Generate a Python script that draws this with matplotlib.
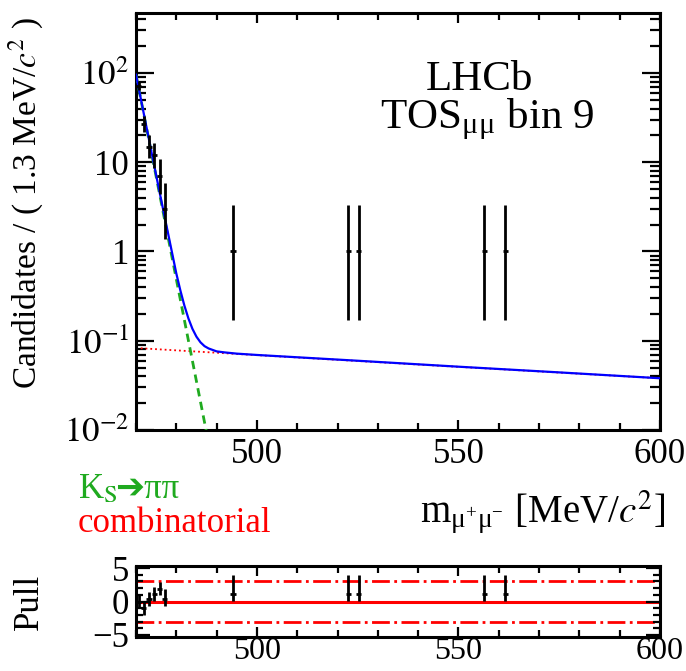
import numpy as np
import matplotlib
matplotlib.use("Agg")
import matplotlib.pyplot as plt
from matplotlib.ticker import FixedLocator, MultipleLocator, FixedFormatter, LogLocator, NullFormatter

plt.rcParams['font.family'] = ['Liberation Serif', 'DejaVu Sans']
plt.rcParams['mathtext.fontset'] = 'stix'

# data points (bin centres, 1.3 MeV bins), counts and Poisson errors
bin_x = [470.65, 471.95, 473.25, 474.55, 475.85, 477.15, 494.05, 522.65, 525.25, 556.45, 561.65]
counts = [72, 27, 15, 12, 7, 3, 1, 1, 1, 1, 1]
err_lo = [8.0, 5.0, 3.8, 3.4, 2.6, 1.63, 0.83, 0.83, 0.83, 0.83, 0.83]
err_hi = [9.0, 6.2, 5.0, 4.5, 3.8, 2.92, 2.30, 2.30, 2.30, 2.30, 2.30]
bin_half = 0.65

# fit components
total_x = [470, 472, 474, 476, 478, 480, 481, 482, 483, 484, 485, 486, 487, 488, 490, 492, 495, 500, 525, 550, 575, 600]
total_y = [95.6, 33.8, 12.0, 4.28, 1.56, 0.568, 0.367, 0.248, 0.178, 0.136, 0.111, 0.096, 0.087,
           0.082, 0.076, 0.074, 0.0717, 0.0693, 0.0597, 0.0512, 0.0442, 0.038]
ks_x = [470, 475, 480, 485, 490]
ks_y = [95.5, 6.9, 0.49, 0.0351, 0.0025]
comb_x = [470, 500, 550, 600]
comb_y = [0.083, 0.069, 0.051, 0.038]

# pulls
pull = [0.0, -1.0, 0.4, 1.1, 1.9, 0.4, 1.15, 1.15, 1.15, 1.15, 1.15]
pull_lo = [1.0, 1.0, 1.0, 1.0, 1.0, 1.0, 1.05, 1.05, 1.05, 1.05, 1.05]
pull_hi = [1.0, 1.0, 1.0, 1.0, 1.0, 1.4, 2.85, 2.85, 2.85, 2.85, 2.85]

W, H = 686, 671
fig = plt.figure(figsize=(W / 100, H / 100), dpi=100)
ax = fig.add_axes([136 / W, 1 - 430 / H, 524 / W, 417 / H])
axp = fig.add_axes([136 / W, 1 - 637 / H, 524 / W, 71 / H])

green = '#1faa1f'
fs = 25

ax.plot(comb_x, comb_y, color='red', ls=':', lw=1.3, zorder=2)
ax.plot(ks_x, ks_y, color=green, ls=(0, (3, 2)), lw=2.0, zorder=3)
ax.plot(total_x, total_y, color='blue', lw=1.6, zorder=4)
ax.errorbar(bin_x, counts, yerr=[err_lo, err_hi], xerr=bin_half, fmt='none',
            ecolor='black', elinewidth=2.0, capsize=0, zorder=5)

ax.set_yscale('log')
ax.set_xlim(470, 600)
ax.set_ylim(0.01, 470)
ax.yaxis.set_major_locator(FixedLocator([0.01, 0.1, 1, 10, 100]))
ax.yaxis.set_major_formatter(FixedFormatter(['$10^{-2}$', '$10^{-1}$', '1', '10', '$10^{2}$']))
ax.yaxis.set_minor_locator(LogLocator(base=10, subs=np.arange(2, 10)))
ax.yaxis.set_minor_formatter(NullFormatter())
ax.xaxis.set_major_locator(MultipleLocator(50))
ax.xaxis.set_minor_locator(MultipleLocator(10))

for a in (ax, axp):
    for s in a.spines.values():
        s.set_linewidth(2.2)
    a.tick_params(which='both', direction='in', top=True, right=True, labelsize=fs, width=1.6)
    a.tick_params(which='major', length=7)
    a.tick_params(which='minor', length=5)
ax.tick_params(axis='y', which='major', length=13, pad=5)
ax.tick_params(axis='y', which='minor', length=7)
ax.tick_params(axis='x', pad=6)

ax.set_ylabel('Candidates / ( 1.3 MeV/$c^2$ )', fontsize=24)
ax.yaxis.set_label_coords(-0.172, 0.545)

ax.text(0.655, 0.84, 'LHCb', transform=ax.transAxes, ha='center', va='center', fontsize=31)
ax.text(0.67, 0.745, 'TOS$_{\\mathregular{μμ}}$ bin 9', transform=ax.transAxes,
        ha='center', va='center', fontsize=31)

fig.text(665 / W, 1 - 512 / H, 'm$_{\\mathregular{μ^{+}μ^{-}}}$ [MeV/$c^{2}$]',
         ha='right', va='center', fontsize=28)

fig.text(78 / W, 1 - 490 / H, 'K$_{\\mathrm{S}}$', color=green, ha='left', va='center', fontsize=fs)
fig.text(115 / W, 1 - 490 / H, '\u2794\u03c0\u03c0', color=green, ha='left', va='center', fontsize=fs)
fig.text(78 / W, 1 - 523 / H, 'combinatorial', color='red', ha='left', va='center', fontsize=fs)

# pull panel
axp.axhline(0, color='red', lw=2.2, zorder=1)
axp.axhline(3, color='red', lw=2.0, ls='-.', zorder=1)
axp.axhline(-3, color='red', lw=2.0, ls='-.', zorder=1)
axp.errorbar(bin_x, pull, yerr=[pull_lo, pull_hi], xerr=bin_half, fmt='none',
             ecolor='black', elinewidth=2.0, capsize=0, zorder=5)
axp.set_xlim(470, 600)
axp.set_ylim(-5.3, 5.3)
axp.xaxis.set_major_locator(MultipleLocator(50))
axp.xaxis.set_minor_locator(MultipleLocator(10))
axp.yaxis.set_major_locator(FixedLocator([-5, 0, 5]))
axp.yaxis.set_minor_locator(MultipleLocator(1))
axp.yaxis.set_major_formatter(FixedFormatter(['\u22125', '0', '5']))
axp.tick_params(axis='y', which='major', length=10, pad=5)
axp.tick_params(axis='x', pad=0, labelsize=23)
axp.set_ylabel('Pull', fontsize=fs)
axp.yaxis.set_label_coords(-0.172, 0.5)

fig.savefig('out.png', dpi=100)
